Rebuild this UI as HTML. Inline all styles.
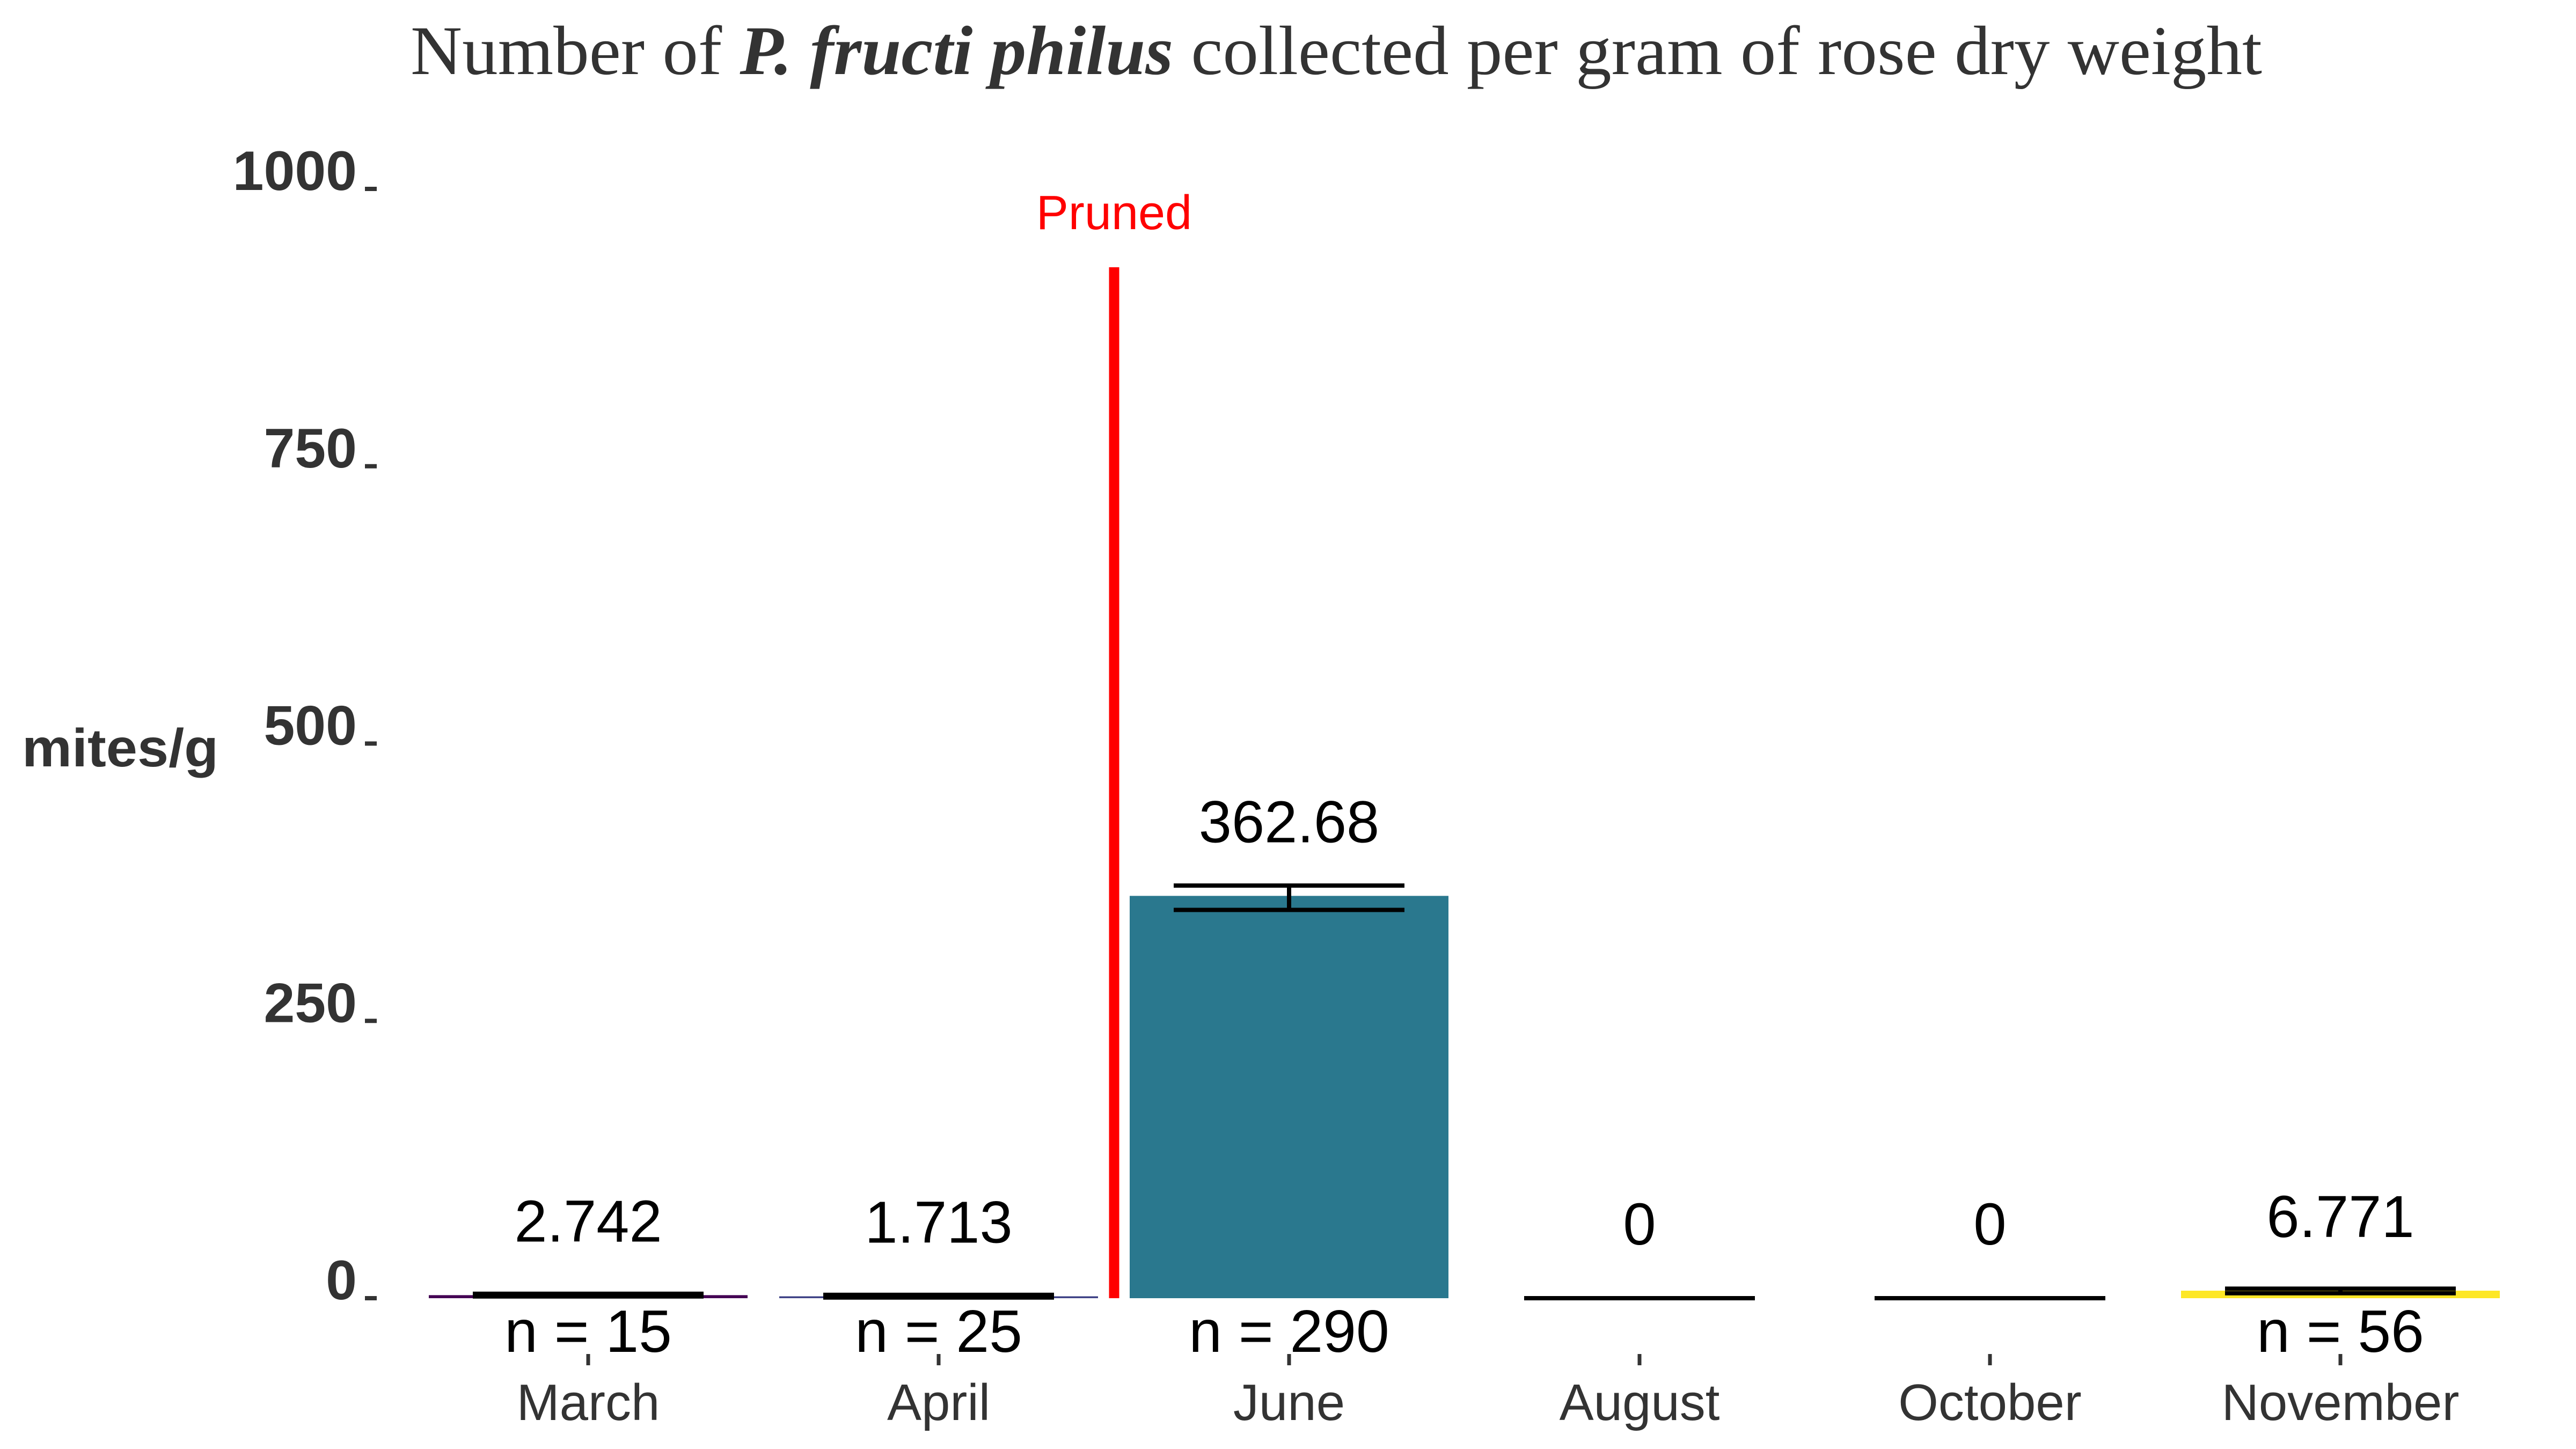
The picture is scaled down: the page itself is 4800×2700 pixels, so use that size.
<!DOCTYPE html>
<html><head><meta charset="utf-8"><style>html,body{margin:0;padding:0;background:#fff}svg{display:block}</style></head>
<body>
<svg id="chart" width="4800" height="2700" viewBox="0 0 4800 2700" xmlns="http://www.w3.org/2000/svg">
<rect width="4800" height="2700" fill="#fff"/>
<text x="765" y="138" font-family="'Liberation Serif', serif" font-size="130" fill="#333" textLength="3450" lengthAdjust="spacingAndGlyphs">Number of <tspan font-weight="bold" font-style="italic">P. fructi philus</tspan> collected per gram of rose dry weight</text>
<text x="41" y="1428" font-family="'Liberation Sans', sans-serif" font-weight="bold" font-size="100" fill="#333" textLength="366" lengthAdjust="spacingAndGlyphs">mites/g</text>
<g id="yaxis"></g>
<g id="marks"></g>
<line x1="2076" y1="498" x2="2076" y2="2419" stroke="#ff0000" stroke-width="19"/>
<text x="2076" y="427" text-anchor="middle" font-family="'Liberation Sans', sans-serif" font-size="90" fill="#ff0000">Pruned</text>
</svg>
<script>
const categories = ["March","April","June","August","October","November"];
const means = [2.742, 1.713, 362.68, 0, 0, 6.771];
const errLow = [1.6, 0.6, 350, 0, 0, 4.5];
const errHigh = [4.0, 3.0, 372, 0, 0, 8.6];
const valueLabels = ["2.742","1.713","362.68","0","0","6.771"];
const nLabels = ["n = 15","n = 25","n = 290","","","n = 56"];
const barColors = ["#440154","#414487","#2A788E","#22A884","#7AD151","#FDE725"];
const yTicks = [0, 250, 500, 750, 1000];

const NS = "http://www.w3.org/2000/svg";
const y0 = 2419, yScale = 2067/1000;
const y = v => y0 - v*yScale;
const x = i => 1096 + i*653;
const barW = 594, errW = 430;
function mk(tag, attrs, parent, text){
  const e = document.createElementNS(NS, tag);
  for (const k in attrs) e.setAttribute(k, attrs[k]);
  if (text !== undefined) e.textContent = text;
  parent.appendChild(e); return e;
}
const ya = document.getElementById('yaxis');
yTicks.forEach(t => {
  const lab = mk('text', {x:665, y:y(t)+2, 'text-anchor':'end', 'font-family':"'Liberation Sans', sans-serif", 'font-weight':'bold', 'font-size':104, fill:'#333'}, ya, String(t));
  
  
  const tk = mk('line', {x1:680, x2:702, y1:y(t), y2:y(t), stroke:'#333', 'stroke-width':8}, ya);
  
  
});
const g = document.getElementById('marks');
categories.forEach((c, i) => {
  const cx = x(i);
  const h = Math.max(0, y0 - y(means[i]));
  if (h > 0) {
    const b = mk('rect', {x:cx-barW/2, y:y(means[i]), width:barW, height:h, fill:barColors[i]}, g);
    
    
  }
  const eg = mk('g', {stroke:'#000', 'stroke-width':8}, g);
  
  
  mk('line', {x1:cx-errW/2, x2:cx+errW/2, y1:y(errHigh[i]), y2:y(errHigh[i])}, eg);
  mk('line', {x1:cx-errW/2, x2:cx+errW/2, y1:y(errLow[i]), y2:y(errLow[i])}, eg);
  mk('line', {x1:cx, x2:cx, y1:y(errHigh[i]), y2:y(errLow[i])}, eg);
  const vl = mk('text', {x:cx, y:y(means[i])-100, 'text-anchor':'middle', 'font-family':"'Liberation Sans', sans-serif", 'font-size':110, fill:'#000'}, g, valueLabels[i]);
  
  
  if (nLabels[i]) {
    const nl = mk('text', {x:cx, y:2519, 'text-anchor':'middle', 'font-family':"'Liberation Sans', sans-serif", 'font-size':111, fill:'#000'}, g, nLabels[i]);
    
    
  }
  const xt = mk('line', {x1:cx, x2:cx, y1:2523, y2:2544, stroke:'#333', 'stroke-width':7}, g);
  
  
  const xl = mk('text', {x:cx, y:2646, 'text-anchor':'middle', 'font-family':"'Liberation Sans', sans-serif", 'font-size':96, fill:'#333'}, g, c);
  
  
});
</script>
</body></html>
